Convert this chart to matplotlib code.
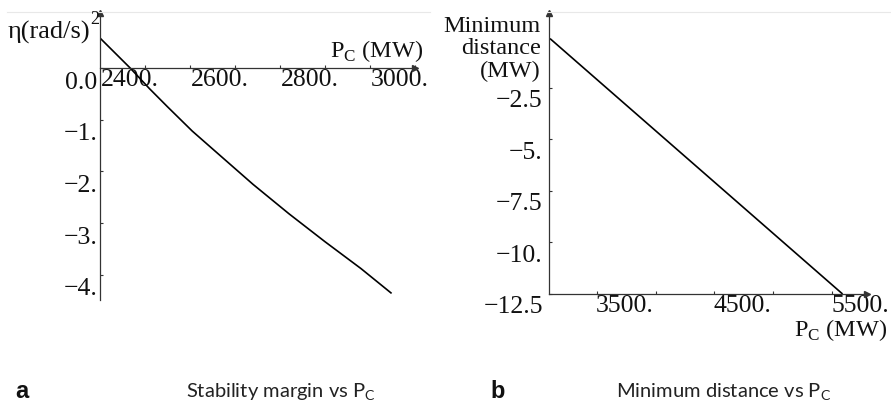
import matplotlib
matplotlib.use("Agg")
import matplotlib.pyplot as plt
from matplotlib.transforms import ScaledTranslation

# ---------------- data ----------------
# Panel a: stability margin eta (rad/s)^2 vs Pc (MW)
pc_a = [2300, 2367, 2410, 2450, 2505, 2560, 2640, 2720, 2800, 2880, 2948]
eta_a = [0.58, 0.0, -0.40, -0.75, -1.22, -1.64, -2.25, -2.82, -3.36, -3.88, -4.36]
xticks_a = [2400, 2600, 2800, 3000]
xtick_labels_a = ["2400.", "2600.", "2800.", "3000."]
xminor_a = [2500, 2700, 2900]
yticks_a = [0, -1, -2, -3, -4]
ytick_labels_a = ["0.0", "\u22121.", "\u22122.", "\u22123.", "\u22124."]

# Panel b: minimum distance (MW) vs Pc (MW)
pc_b = [3100, 5590]
dist_b = [-0.1, -12.5]
xticks_b = [3500, 4500, 5500]
xtick_labels_b = ["3500.", "4500.", "5500."]
xminor_b = [4000, 5000]
yticks_b = [-12.5, -10, -7.5, -5, -2.5]
ytick_labels_b = ["\u221212.5", "\u221210.", "\u22127.5", "\u22125.", "\u22122.5"]

# ---------------- style ----------------
W, H = 891, 403
plt.rcParams["font.family"] = ["Liberation Serif", "DejaVu Serif"]
plt.rcParams["mathtext.fontset"] = "custom"
plt.rcParams["mathtext.rm"] = "Liberation Serif"
plt.rcParams["mathtext.sf"] = "Lato"
AX = "#333333"
TXT = "#111111"
FS = 18.5

fig = plt.figure(figsize=(W / 100, H / 100), dpi=100)


def rect(x0, y0, x1, y1):
    return [x0 / W, 1 - y1 / H, (x1 - x0) / W, (y1 - y0) / H]


def px(x, y):
    return x / W, 1 - y / H


def style_axes(ax, bottom_pos):
    for s in ["top", "right"]:
        ax.spines[s].set_visible(False)
    for s in ["left", "bottom"]:
        ax.spines[s].set_color(AX)
        ax.spines[s].set_linewidth(0.9)
    ax.spines["bottom"].set_position(bottom_pos)
    ax.tick_params(which="both", direction="in", length=2.5, width=0.8, color=AX,
                   labelsize=FS, labelcolor=TXT)
    ax.patch.set_alpha(0)
    # arrows
    ax.plot(1, 0 if bottom_pos[0] == "data" else ax.get_ylim()[0], marker=">", ms=5,
            color=AX, mec=AX, transform=ax.get_yaxis_transform(), clip_on=False)
    ax.plot(ax.get_xlim()[0], 1, marker="^", ms=5, color=AX, mec=AX,
            transform=ax.get_xaxis_transform(), clip_on=False)


def shift_labels(labels, dx_px, dy_px):
    off = ScaledTranslation(dx_px / 100, -dy_px / 100, fig.dpi_scale_trans)
    for lab in labels:
        lab.set_transform(lab.get_transform() + off)


# faint top rule (scan artefact)
fig.add_artist(plt.Line2D([7 / W, 430 / W], [1 - 12 / H] * 2, color="#e8e8e8", lw=0.8))
fig.add_artist(plt.Line2D([547 / W, 890 / W], [1 - 12 / H] * 2, color="#e8e8e8", lw=0.8))

# ---------------- panel a ----------------
axa = fig.add_axes(rect(100, 13, 415, 300))
axa.set_xlim(2300, 3000)
axa.set_ylim(-(300 - 68) / 51.7, (68 - 13) / 51.7)
axa.plot(pc_a, eta_a, color="black", lw=1.2, solid_capstyle="butt")
axa.set_xticks(xticks_a, xtick_labels_a)
axa.set_xticks(xminor_a, minor=True)
axa.set_yticks(yticks_a, ytick_labels_a)
style_axes(axa, ("data", 0))
axa.tick_params(axis="x", pad=0.5)
axa.tick_params(axis="y", pad=2)
shift_labels(axa.get_xticklabels(), -15, 0)
shift_labels(axa.get_yticklabels(), 0, 12)

fig.text(*px(8, 39), "\u03b7(rad/s)", fontsize=19, ha="left", va="baseline", color=TXT)
fig.text(*px(90, 24), "2", fontsize=13, ha="left", va="baseline", color=TXT)
fig.text(*px(423, 57), r"$\mathrm{P}_{\mathrm{C}}$ (MW)", fontsize=17.5, ha="right",
         va="baseline", color=TXT)

# ---------------- panel b ----------------
axb = fig.add_axes(rect(549, 13, 867, 294))
axb.set_xlim(3500 - 48 / 0.1175, 3500 + 270 / 0.1175)
axb.set_ylim(-12.5, -12.5 + 281 / 20.6)
axb.plot(pc_b, dist_b, color="black", lw=1.2, solid_capstyle="butt")
axb.set_xticks(xticks_b, xtick_labels_b)
axb.set_xticks(xminor_b, minor=True)
axb.set_yticks(yticks_b, ytick_labels_b)
style_axes(axb, ("outward", 0))
axb.tick_params(axis="x", pad=0.5)
axb.tick_params(axis="y", pad=4.5)
shift_labels(axb.get_xticklabels(), 28, 0)
shift_labels(axb.get_yticklabels(), 0, 11)

for txt, yb in [("Minimum", 32), ("distance", 54), ("(MW)", 77)]:
    fig.text(*px(541, yb), txt, fontsize=17.5, ha="right", va="baseline", color=TXT)
fig.text(*px(887, 336), r"$\mathrm{P}_{\mathrm{C}}$ (MW)", fontsize=17.5, ha="right",
         va="baseline", color=TXT)

# ---------------- captions ----------------
cap_font = ["Lato", "DejaVu Sans"]
fig.text(*px(15, 398), "a", fontsize=17, fontweight="bold", family=["Liberation Sans"],
         ha="left", va="baseline", color="#111111")
fig.text(*px(490, 398), "b", fontsize=17, fontweight="bold", family=["Liberation Sans"],
         ha="left", va="baseline", color="#111111")
fig.text(*px(281, 398), r"Stability margin vs $\mathsf{P}_{\mathsf{C}}$", fontsize=14.5,
         family=cap_font, ha="center", va="baseline", color="#222222")
fig.text(*px(724, 398), r"Minimum distance vs $\mathsf{P}_{\mathsf{C}}$", fontsize=14.5,
         family=cap_font, ha="center", va="baseline", color="#222222")

fig.savefig("out.png", dpi=100)
